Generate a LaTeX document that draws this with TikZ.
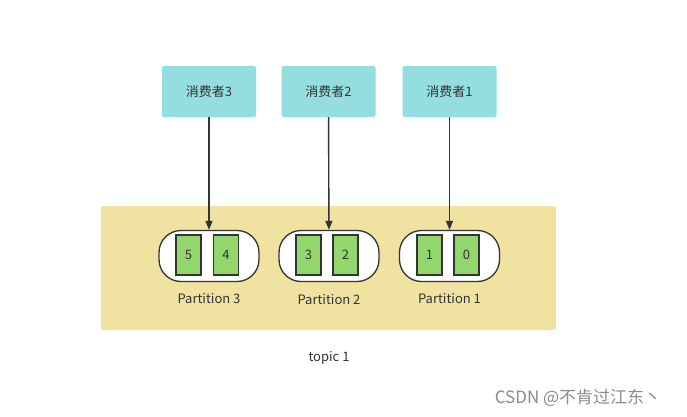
\documentclass[tikz,border=0pt]{standalone}
\usepackage{fontspec}
\setmainfont{Noto Sans CJK SC}
\usetikzlibrary{arrows.meta}
\definecolor{cons}{RGB}{149,222,223}
\definecolor{topicbg}{RGB}{240,226,160}
\definecolor{msg}{RGB}{146,214,108}
\definecolor{txt}{RGB}{51,51,51}
\tikzset{
  consumer/.style={fill=cons, draw=none, rounded corners=2pt, minimum width=94pt, minimum height=51pt, font=\fontsize{13}{15}\selectfont, text=txt, inner sep=0pt},
  partbox/.style={draw=black!80, line width=1.3pt, fill=white, rounded corners=22pt, minimum width=100pt, minimum height=51pt, inner sep=0pt},
  msgbox/.style={draw=black!80, line width=1.1pt, fill=msg, minimum width=25pt, minimum height=40pt, inner sep=0pt, font=\fontsize{13}{15}\selectfont, text=txt},
  lbl/.style={font=\fontsize{13}{15}\selectfont, text=txt, inner sep=0pt},
  conn/.style={draw=black!80, line width=1.4pt, -{Triangle[length=9pt,width=7pt]}}
}
\begin{document}
\begin{tikzpicture}[x=1pt,y=-1pt]
\useasboundingbox (0,0) rectangle (687,417);
\fill[white] (0,0) rectangle (687,417);
\node[fill=topicbg, rounded corners=2pt, minimum width=455pt, minimum height=124pt, inner sep=0pt] (topic) at (328.5,268) {};
\node[consumer] (c3) at (209,91.5) {消费者3};
\node[consumer] (c2) at (328.5,91.5) {消费者2};
\node[consumer] (c1) at (449.5,91.5) {消费者1};
\node[partbox] (p3) at (209,256) {};
\node[partbox] (p2) at (329,256) {};
\node[partbox] (p1) at (449.5,256) {};
\node[msgbox] (m5) at (188.5,255) {5};
\node[msgbox] (m4) at (226,255) {4};
\node[msgbox] (m3) at (308.5,255) {3};
\node[msgbox] (m2) at (345.5,255) {2};
\node[msgbox] (m1) at (429.5,255) {1};
\node[msgbox] (m0) at (466.5,255) {0};
\node[lbl] (l3) at (209,299) {Partition 3};
\node[lbl] (l2) at (329,300) {Partition 2};
\node[lbl] (l1) at (449.5,299) {Partition 1};
\node[lbl] (tl) at (329,358) {topic 1};
\node[font=\fontsize{17}{19}\selectfont, text=black!45, inner sep=0pt] (wm) at (578,398) {CSDN @不肯过江东丶};
\draw[conn] (c3) -- (p3);
\draw[conn] (c2) -- (p2);
\draw[conn] (c1) -- (p1);
\end{tikzpicture}
\end{document}
